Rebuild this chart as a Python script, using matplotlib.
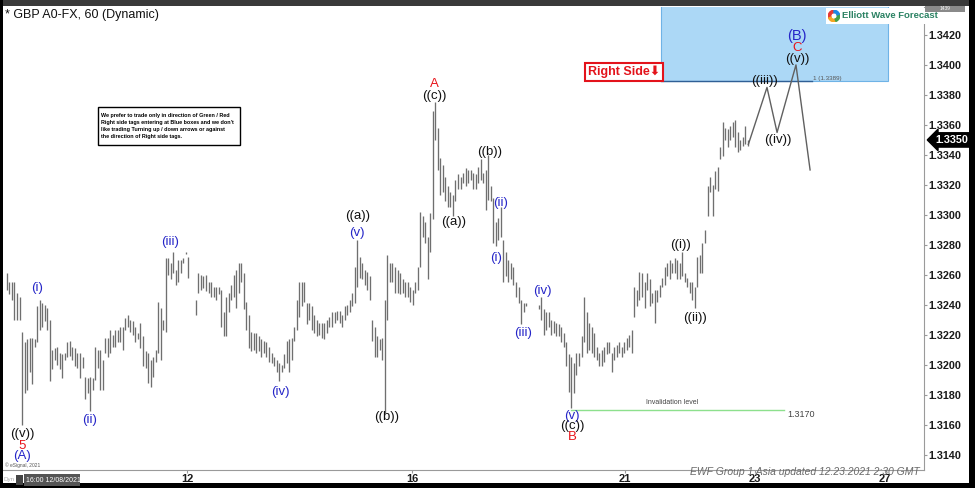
import numpy as np
import matplotlib
matplotlib.use("Agg")
import matplotlib.pyplot as plt
from matplotlib.patches import Rectangle, Wedge
from matplotlib.transforms import blended_transform_factory

plt.rcParams['font.family'] = ['Liberation Sans', 'DejaVu Sans']

nan = np.nan

# hourly bars, GBPUSD, nan = no bar
bar_high = [
    1.3261, 1.3255, 1.3255, 1.3255, 1.3248, 1.3245, 1.3222, 1.3215, 1.3217, 1.3218,
    1.3218, 1.3217, 1.3239, 1.3243, 1.3241, 1.3240, 1.3238, 1.3230, 1.3210, 1.3211,
    1.3212, 1.3208, 1.3207, 1.3208, 1.3215, 1.3216, 1.3212, 1.3211, 1.3208, 1.3208,
    1.3205, 1.3192, 1.3191, 1.3192, 1.3191, 1.3212, 1.3210, 1.3210, 1.3203, 1.3218,
    1.3218, 1.3223, 1.3220, 1.3223, 1.3223, 1.3225, 1.3225, 1.3231, 1.3233, 1.3230,
    1.3229, 1.3225, 1.3221, 1.3228, 1.3219, 1.3209, 1.3208, 1.3203, 1.3205, 1.3210,
    1.3242, 1.3238, 1.3230, 1.3271, 1.3271, 1.3268, 1.3275, 1.3263, 1.3270, 1.3270,
    1.3271, 1.3275, 1.3272, nan, nan,
    1.3243, 1.3261, 1.3260, 1.3259, 1.3260, 1.3255, 1.3255, 1.3252, 1.3252, 1.3252,
    1.3250, 1.3235, 1.3245, 1.3248, 1.3253, 1.3260, 1.3263, 1.3268, 1.3268, 1.3261,
    1.3242, 1.3233, 1.3222, 1.3221, 1.3221, 1.3219, 1.3217, 1.3216, 1.3215, 1.3212,
    1.3208, 1.3205, 1.3203, 1.3201, 1.3200, 1.3207, 1.3216, 1.3217, 1.3218, 1.3225,
    1.3243, 1.3255, 1.3255, 1.3255, 1.3241, 1.3241, 1.3239, 1.3233, 1.3230, 1.3228,
    1.3228, 1.3228, 1.3230, 1.3232, 1.3235, 1.3235, 1.3236, 1.3236, 1.3233, 1.3239,
    1.3240, 1.3243, 1.3248, 1.3265, 1.3283, 1.3272, 1.3268, 1.3263, 1.3262, 1.3259,
    1.3230, 1.3225, 1.3219, 1.3217, 1.3218, 1.3243,
    1.3273, 1.3268, 1.3268, 1.3265, 1.3263, 1.3261, 1.3257, 1.3255, 1.3255, 1.3252,
    1.3250, 1.3255, 1.3265, 1.3302, 1.3299, 1.3295, 1.3285, 1.3301, 1.3369, 1.3375,
    1.3358, 1.3338, 1.3333, 1.3325, 1.3319, 1.3315, 1.3313, 1.3323, 1.3327, 1.3325,
    1.3328, 1.3331, 1.3330, 1.3330, 1.3328, 1.3327, 1.3332, 1.3337, 1.3328, 1.3330,
    1.3340, 1.3319, 1.3311, 1.3295, 1.3298, 1.3305, 1.3283, 1.3275, 1.3270, 1.3268,
    1.3265, 1.3255, 1.3252, 1.3243, 1.3241, 1.3241, nan, nan, nan, nan,
    1.3240, 1.3245, 1.3237, 1.3235, 1.3235, 1.3230, 1.3229, 1.3228, 1.3227, 1.3225,
    1.3221, 1.3215, 1.3207, 1.3205, 1.3201, 1.3208, 1.3208, 1.3219, 1.3245, 1.3235,
    1.3228, 1.3225, 1.3221, 1.3212, 1.3208, 1.3210, 1.3212, 1.3215, 1.3215, 1.3208,
    1.3212, 1.3213, 1.3215, 1.3212, 1.3215, 1.3218, 1.3220, 1.3223, 1.3252, 1.3250,
    1.3262, 1.3261, 1.3255, 1.3261, 1.3257, 1.3248, 1.3250, 1.3250, 1.3253, 1.3258,
    1.3265, 1.3268, 1.3270, 1.3268, 1.3271, 1.3270, 1.3268, 1.3275, 1.3261, 1.3258,
    1.3255, 1.3255, 1.3252, 1.3272, 1.3273, 1.3281, 1.3290, 1.3319, 1.3325, 1.3320,
    1.3329, 1.3332, 1.3345, 1.3362, 1.3358, 1.3357, 1.3359, 1.3362, 1.3363, 1.3355,
    1.3350, 1.3352, 1.3359, 1.3350,
]
bar_low = [
    1.3250, 1.3247, 1.3243, 1.3230, 1.3230, 1.3230, 1.3160, 1.3181, 1.3183, 1.3195,
    1.3187, 1.3212, 1.3215, 1.3223, 1.3225, 1.3229, 1.3223, 1.3189, 1.3197, 1.3203,
    1.3200, 1.3197, 1.3191, 1.3203, 1.3205, 1.3206, 1.3203, 1.3199, 1.3198, 1.3191,
    1.3198, 1.3177, 1.3181, 1.3169, 1.3183, 1.3190, 1.3198, 1.3183, 1.3183, 1.3208,
    1.3205, 1.3208, 1.3212, 1.3212, 1.3215, 1.3215, 1.3210, 1.3223, 1.3225, 1.3222,
    1.3220, 1.3215, 1.3217, 1.3211, 1.3199, 1.3198, 1.3188, 1.3185, 1.3192, 1.3202,
    1.3208, 1.3203, 1.3223, 1.3222, 1.3260, 1.3257, 1.3261, 1.3253, 1.3255, 1.3261,
    1.3268, 1.3274, 1.3258, nan, nan,
    1.3233, 1.3248, 1.3250, 1.3251, 1.3249, 1.3248, 1.3245, 1.3245, 1.3243, 1.3247,
    1.3225, 1.3219, 1.3219, 1.3235, 1.3243, 1.3245, 1.3238, 1.3248, 1.3255, 1.3237,
    1.3223, 1.3211, 1.3209, 1.3210, 1.3208, 1.3209, 1.3205, 1.3208, 1.3205, 1.3202,
    1.3201, 1.3199, 1.3195, 1.3189, 1.3195, 1.3198, 1.3201, 1.3195, 1.3203, 1.3216,
    1.3223, 1.3232, 1.3239, 1.3242, 1.3227, 1.3230, 1.3223, 1.3221, 1.3219, 1.3220,
    1.3218, 1.3217, 1.3221, 1.3225, 1.3225, 1.3228, 1.3230, 1.3228, 1.3225, 1.3230,
    1.3233, 1.3235, 1.3239, 1.3241, 1.3252, 1.3258, 1.3257, 1.3253, 1.3250, 1.3243,
    1.3216, 1.3205, 1.3205, 1.3210, 1.3203, 1.3168,
    1.3230, 1.3255, 1.3255, 1.3248, 1.3248, 1.3247, 1.3248, 1.3245, 1.3245, 1.3242,
    1.3240, 1.3248, 1.3250, 1.3265, 1.3285, 1.3281, 1.3257, 1.3275, 1.3297, 1.3350,
    1.3330, 1.3313, 1.3315, 1.3309, 1.3305, 1.3305, 1.3299, 1.3309, 1.3317, 1.3317,
    1.3321, 1.3319, 1.3321, 1.3323, 1.3317, 1.3317, 1.3321, 1.3323, 1.3321, 1.3303,
    1.3310, 1.3309, 1.3281, 1.3279, 1.3283, 1.3285, 1.3255, 1.3259, 1.3255, 1.3257,
    1.3253, 1.3245, 1.3241, 1.3227, 1.3235, 1.3239, nan, nan, nan, nan,
    1.3237, 1.3230, 1.3220, 1.3223, 1.3225, 1.3220, 1.3221, 1.3219, 1.3219, 1.3215,
    1.3212, 1.3199, 1.3182, 1.3171, 1.3181, 1.3193, 1.3199, 1.3205, 1.3215, 1.3208,
    1.3210, 1.3208, 1.3205, 1.3203, 1.3199, 1.3199, 1.3202, 1.3207, 1.3208, 1.3195,
    1.3203, 1.3205, 1.3208, 1.3205, 1.3208, 1.3210, 1.3212, 1.3208, 1.3232, 1.3239,
    1.3243, 1.3245, 1.3238, 1.3250, 1.3239, 1.3241, 1.3228, 1.3242, 1.3245, 1.3252,
    1.3253, 1.3259, 1.3257, 1.3261, 1.3261, 1.3257, 1.3257, 1.3259, 1.3255, 1.3252,
    1.3248, 1.3243, 1.3238, 1.3252, 1.3261, 1.3261, 1.3281, 1.3299, 1.3315, 1.3299,
    1.3317, 1.3316, 1.3337, 1.3339, 1.3350, 1.3345, 1.3350, 1.3352, 1.3345, 1.3342,
    1.3343, 1.3346, 1.3347, 1.3346,
]

# projected path ((iii)) ((iv)) ((v)) and the drop after it (bar positions, price)
proj_x = [294.2, 301.6, 305.6, 313.1, 318.7]
proj_y = [1.3347, 1.3385, 1.3355, 1.3400, 1.3330]

# date ticks (bar positions)
date_pos = [71.5, 160.8, 245.3, 296.9, 348.5]
date_lbl = ['12', '16', '21', '23', '27']

price_ticks = [1.3140, 1.3160, 1.3180, 1.3200, 1.3220, 1.3240, 1.3260, 1.3280,
               1.3300, 1.3320, 1.3340, 1.3360, 1.3380, 1.3400, 1.3420]
last_price = 1.3350
invalidation = 1.3170
fib_level = 1.3389

# wave labels
wave_text = ['((v))', '5', '(A)', '(i)', '(ii)', '(iii)', '(iv)', '((a))', '(v)', '((b))',
             'A', '((c))', '((a))', '((b))', '(ii)', '(i)', '(iii)', '(iv)', '(v)', '((c))',
             'B', '((i))', '((ii))', '((iii))', '((iv))', '((v))', 'C', '(B)']
wave_x = [6, 6, 6, 12, 32.6, 64.7, 108.4, 139, 139, 150.8,
          169.5, 169.5, 177.4, 191.7, 196, 194, 204.8, 212.3, 224.2, 224.2,
          224.2, 267.1, 273, 300.8, 306, 313.5, 313.5, 313.5]
wave_y = [1.3154, 1.3146, 1.3139, 1.3251, 1.3163, 1.3282, 1.3182, 1.3299, 1.3288, 1.3165,
          1.3387, 1.3379, 1.3295, 1.3342, 1.3308, 1.3271, 1.3221, 1.3249, 1.3166, 1.3159,
          1.3152, 1.3280, 1.3231, 1.3389, 1.3350, 1.3404, 1.3411, 1.3419]
BLK, BLU, RED = '#111111', '#2626c8', '#e8141a'
wave_col = [BLK, RED, BLU, BLU, BLU, BLU, BLU, BLK, BLU, BLK,
            RED, BLK, BLK, BLK, BLU, BLU, BLU, BLU, BLU, BLK,
            RED, BLK, BLK, BLK, BLK, BLK, RED, BLU]

fig = plt.figure(figsize=(9.75, 4.88), dpi=100)
fig.patch.set_facecolor('white')
ax = fig.add_axes([3 / 975, 18 / 488, 921 / 975, 463 / 488])
ax.set_facecolor('white')

xs = np.arange(len(bar_high))
hi = np.array(bar_high)
lo = np.array(bar_low)
ok = ~np.isnan(hi)
ax.vlines(xs[ok], lo[ok], hi[ok], color='#6f6f6f', lw=0.95)

ax.set_xlim(-1.55, 363.9)
ax.set_ylim(1.3130, 1.34386)

# blue target box + fib line
ax.add_patch(Rectangle((259.6, fib_level), 90.0, 0.0060, facecolor='#acd8f6',
                       edgecolor='#6fb3e6', lw=0.8, zorder=0))
ax.plot([259.6, 319.5], [fib_level, fib_level], color='#2f5f95', lw=1.0)
ax.text(320.0, fib_level + 0.00005, '1 (1.3389)', fontsize=4.5, color='#555555',
        va='bottom', ha='left')

# projection
ax.plot(proj_x, proj_y, color='#606060', lw=1.0)

# invalidation line
ax.plot([224.0, 308.4], [invalidation, invalidation], color='#8de08d', lw=1.0)
ax.text(264, invalidation + 0.00025, 'Invalidation level', fontsize=5, color='#444444',
        ha='center', va='bottom')
ax.text(309.5, invalidation - 0.00030, '1.3170', fontsize=6.5, color='#444444',
        ha='left', va='center')

for t, x, y, c in zip(wave_text, wave_x, wave_y, wave_col):
    fs = 10.5 if t == '(B)' else 9.5
    ax.text(x, y, t, color=c, fontsize=fs, ha='center', va='center')

# axes styling
for s in ['left', 'top']:
    ax.spines[s].set_visible(False)
ax.spines['right'].set_color('#9a9a9a')
ax.spines['bottom'].set_color('#9a9a9a')
ax.yaxis.tick_right()
ax.set_yticks(price_ticks)
ax.set_yticklabels(['%.4f' % p for p in price_ticks], fontsize=7.8, fontweight='bold',
                   color='#1a1a1a')
ax.tick_params(axis='y', length=2, pad=1, color='#9a9a9a')
ax.set_xticks(date_pos)
ax.set_xticklabels(date_lbl, fontsize=8, fontweight='bold', color='#1a1a1a')
ax.tick_params(axis='x', length=2, pad=1, color='#9a9a9a')

# last price tag
tr = blended_transform_factory(ax.transAxes, ax.transData)
ax.text(1.012, last_price, '1.3350', transform=tr, ha='left', va='center', fontsize=7.8,
        fontweight='bold', color='white', clip_on=False,
        bbox=dict(boxstyle='larrow,pad=0.2', fc='black', ec='black'))

# Right side tag
ax.text(244.9, 1.33953, 'Right Side⬇', fontsize=9, fontweight='bold', color='#e3131b',
        ha='center', va='center',
        bbox=dict(boxstyle='square,pad=0.25', fc='white', ec='#e3131b', lw=1.5))

# header
fig.text(5 / 975, 1 - 15 / 488, '* GBP A0-FX, 60 (Dynamic)', fontsize=9, color='#111111',
         va='center', ha='left')

# note box
note = ("We prefer to trade only in direction of Green / Red\n"
        "Right side tags entering at Blue boxes and we don't\n"
        "like trading Turning up / down arrows or against\n"
        "the direction of Right side tags.")
fig.add_artist(Rectangle((98 / 975, 1 - 145 / 488), 142 / 975, 38 / 488,
                         transform=fig.transFigure, fc='white', ec='black', lw=1.0))
fig.text(101 / 975, 1 - 126 / 488, note, fontsize=3.9, fontweight='bold', va='center',
         ha='left', linespacing=1.45)

# logo
fig.add_artist(Rectangle((826 / 975, 1 - 24 / 488), 106 / 975, 16 / 488,
                         transform=fig.transFigure, fc='white', ec='none'))
fig.text(842 / 975, 1 - 16 / 488, 'Elliott Wave Forecast', fontsize=6.8, fontweight='bold',
         color='#2b8263', va='center', ha='left')
lax = fig.add_axes([828 / 975, 1 - 22 / 488, 12 / 975, 12 / 488], zorder=5)
lax.set_xlim(-1, 1)
lax.set_ylim(-1, 1)
lax.axis('off')
for a0, a1, c in [(90, 200, '#e53935'), (200, 290, '#f5a623'), (290, 20, '#43a047'),
                  (20, 90, '#1e88e5')]:
    lax.add_patch(Wedge((0, 0), 0.95, a0, a1, width=0.4, color=c))

# frame around the screenshot
fig.add_artist(Rectangle((0, 1 - 6 / 488), 1, 6 / 488, transform=fig.transFigure,
                         fc='#3a3a3a', ec='none'))
fig.add_artist(Rectangle((0, 0), 3 / 975, 1, transform=fig.transFigure, fc='black', ec='none'))
fig.add_artist(Rectangle((969 / 975, 0), 6 / 975, 1, transform=fig.transFigure,
                         fc='black', ec='none'))
fig.add_artist(Rectangle((0, 0), 1, 5 / 488, transform=fig.transFigure, fc='black', ec='none'))
fig.add_artist(Rectangle((925 / 975, 1 - 12 / 488), 40 / 975, 6 / 488,
                         transform=fig.transFigure, fc='#8a8a8a', ec='none'))
fig.text(945 / 975, 1 - 9 / 488, '1439', fontsize=3.5, color='white', ha='center',
         va='center')

# footer bits
fig.text(5 / 975, 1 - 465 / 488, '© eSignal, 2021', fontsize=3.5, color='#555555',
         va='center')
fig.text(4 / 975, 1 - 480 / 488, 'Dyn', fontsize=4.5, color='#aaaaaa', va='center')
fig.add_artist(Rectangle((16 / 975, 1 - 485 / 488), 7 / 975, 10 / 488,
                         transform=fig.transFigure, fc='#444444', ec='none'))
fig.add_artist(Rectangle((24 / 975, 1 - 486 / 488), 56 / 975, 12 / 488,
                         transform=fig.transFigure, fc='#555555', ec='none'))
fig.text(26 / 975, 1 - 480 / 488, '16:00 12/08/2021', fontsize=5, color='white',
         va='center')
fig.text(805 / 975, 1 - 472 / 488, 'EWF Group 1 Asia updated 12.23.2021 2:30 GMT',
         fontsize=7.5, style='italic', color='#6a6a6a', ha='center', va='center')

fig.savefig('out.png', dpi=100, facecolor=fig.get_facecolor())
